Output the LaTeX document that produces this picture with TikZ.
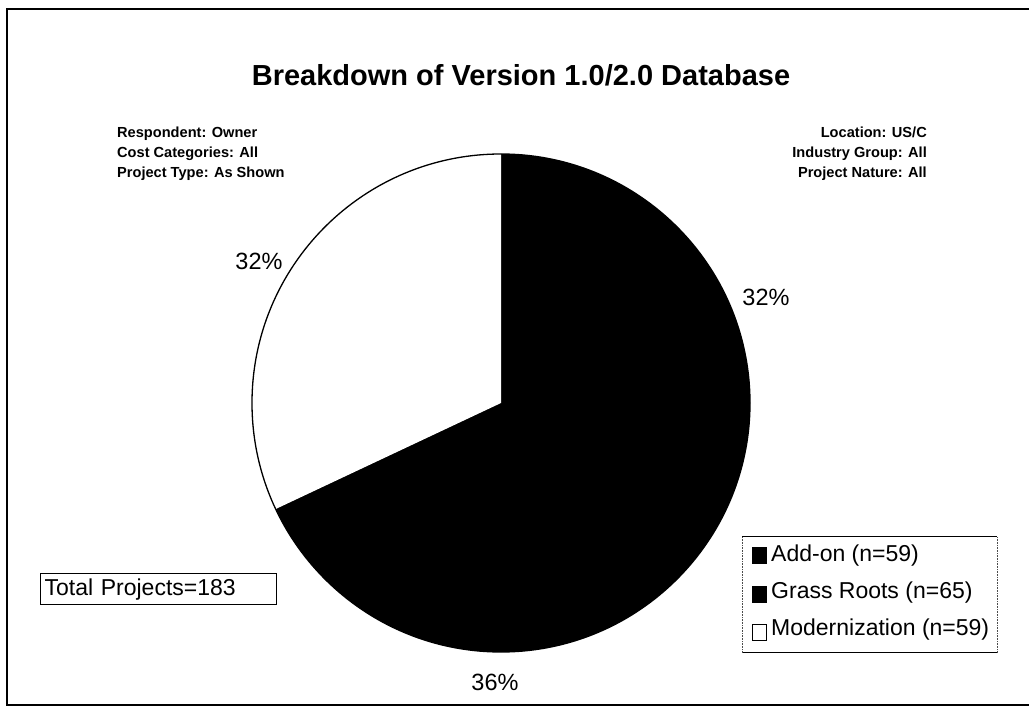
\documentclass[tikz,border=0pt]{standalone}
\usepackage{fontspec}
\setmainfont{Liberation Sans}
\begin{document}
\begin{tikzpicture}[x=1pt,y=-1pt,
  lbl/.style={font=\fontsize{23.5}{28}\selectfont, inner sep=0pt},
  hdr/.style={font=\bfseries\fontsize{14.6}{20}\selectfont, inner sep=0pt},
  ttl/.style={font=\bfseries\fontsize{29}{34}\selectfont, inner sep=0pt},
  swatch/.style={draw=black, line width=1pt, minimum width=14pt, minimum height=16pt, inner sep=0pt},
  legtxt/.style={font=\fontsize{23}{27}\selectfont, inner sep=0pt, anchor=west}]
\useasboundingbox (0,0) rectangle (1029,708);
\fill[white] (0,0) rectangle (1029,708);
% frame
\draw[line width=2.5pt] (1035,9) -- (7,9) -- (7,705) -- (1035,705);
% title
\node[ttl, anchor=base] (title) at (521,86) {Breakdown of Version 1.0/2.0 Database};
% headers
\node[hdr, anchor=base west] (h1) at (117,138) {Respondent: Owner};
\node[hdr, anchor=base west] (h2) at (117,158) {Cost Categories: All};
\node[hdr, anchor=base west] (h3) at (117,178) {Project Type: As Shown};
\node[hdr, anchor=base east] (r1) at (927,138) {Location: US/C};
\node[hdr, anchor=base east] (r2) at (927,158) {Industry Group: All};
\node[hdr, anchor=base east] (r3) at (927,178) {Project Nature: All};
% pie
\coordinate (c) at (501,403);
\fill[black] (c) circle (249);
\fill[white] (c) -- ++(-90:249) arc[start angle=-90, end angle=-205.2, radius=249] -- cycle;
\draw[line width=1.3pt] (c) circle (249);
% percent labels
\node[lbl] (p1) at (259,261) {32\%};
\node[lbl] (p2) at (766,297) {32\%};
\node[lbl] (p3) at (495,682) {36\%};
% total box
\node[draw, line width=1.2pt, anchor=north west, minimum height=31pt, text width=228pt,
  inner xsep=4pt, inner ysep=0pt, align=left, font=\fontsize{23}{27}\selectfont] (total) at (40,573) {Total Projects=183};
% legend
\node[minimum width=255pt, minimum height=115pt, inner sep=0pt, anchor=north west] (legend) at (742,537) {};
\draw[line width=1pt] (legend.north west) -- (legend.north east);
\draw[line width=1pt] (legend.south west) -- (legend.south east);
\draw[line width=0.6pt, densely dotted, black!70] (legend.north west) -- (legend.south west);
\draw[line width=0.6pt, densely dotted, black!70] (legend.north east) -- (legend.south east);
\node[swatch, fill=black] (s1) at (759,556) {};
\node[swatch, fill=black] (s2) at (759,594) {};
\node[swatch, fill=white] (s3) at (759,632) {};
\node[legtxt] (t1) at (771,556) {Add-on (n=59)};
\node[legtxt] (t2) at (771,593) {Grass Roots (n=65)};
\node[legtxt] (t3) at (771,630) {Modernization (n=59)};
\end{tikzpicture}
\end{document}
